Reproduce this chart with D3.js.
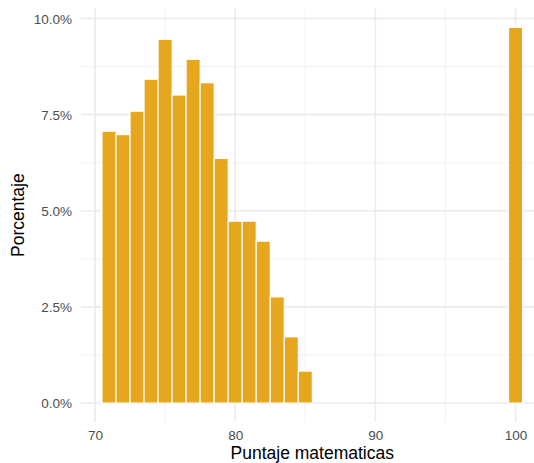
<!DOCTYPE html>
<html>
<head>
<meta charset="utf-8">
<script src="https://cdn.jsdelivr.net/npm/d3@7"></script>
<style>
  html, body { margin: 0; padding: 0; background: #ffffff; }
  svg { display: block; }
  text { font-family: "Liberation Sans", Arial, Helvetica, sans-serif; }
</style>
</head>
<body>
<div id="chart"></div>
<script>
// Data
const scores = [71, 72, 73, 74, 75, 76, 77, 78, 79, 80, 81, 82, 83, 84, 85, 100];
const percents = [7.07, 6.98, 7.59, 8.42, 9.46, 8.01, 8.94, 8.33, 6.36, 4.73, 4.73, 4.21, 2.76, 1.72, 0.83, 9.77];
const xTicks = [70, 80, 90, 100];
const xMinorTicks = [75, 85, 95];
const yTicks = [0, 2.5, 5, 7.5, 10];
const yMinorTicks = [1.25, 3.75, 6.25, 8.75];
const xTitle = "Puntaje matematicas";
const yTitle = "Porcentaje";

const W = 534, H = 463;
const panel = { left: 81, right: 543.6, top: 8.6, bottom: 421.8 };

const svg = d3.select("#chart").append("svg")
  .attr("width", W).attr("height", H);

const dataMin = d3.min(scores) - 0.5, dataMax = d3.max(scores) + 0.5;
const xPad = (dataMax - dataMin) * 0.05;
const x = d3.scaleLinear()
  .domain([dataMin - xPad, dataMax + xPad])
  .range([panel.left, panel.right]);

const yMax = d3.max(percents);
const yPad = yMax * 0.05;
const y = d3.scaleLinear()
  .domain([-yPad, yMax + yPad])
  .range([panel.bottom, panel.top]);

const grid = svg.append("g");
// minor grid
grid.selectAll("line.ym").data(yMinorTicks).join("line")
  .attr("x1", panel.left).attr("x2", panel.right)
  .attr("y1", d => y(d)).attr("y2", d => y(d))
  .attr("stroke", "#EFEFEF").attr("stroke-width", 0.9);
grid.selectAll("line.xm").data(xMinorTicks).join("line")
  .attr("x1", d => x(d)).attr("x2", d => x(d))
  .attr("y1", panel.top).attr("y2", panel.bottom)
  .attr("stroke", "#EFEFEF").attr("stroke-width", 0.9);
// major grid
grid.selectAll("line.yM").data(yTicks).join("line")
  .attr("x1", panel.left).attr("x2", panel.right)
  .attr("y1", d => y(d)).attr("y2", d => y(d))
  .attr("stroke", "#EBEBEB").attr("stroke-width", 1.6);
grid.selectAll("line.xM").data(xTicks).join("line")
  .attr("x1", d => x(d)).attr("x2", d => x(d))
  .attr("y1", panel.top).attr("y2", panel.bottom)
  .attr("stroke", "#EBEBEB").attr("stroke-width", 1.6);

// bars
const bars = scores.map((s, i) => ({ s, p: percents[i] }));
svg.append("g").selectAll("rect").data(bars).join("rect")
  .attr("x", d => x(d.s - 0.5))
  .attr("width", d => x(d.s + 0.5) - x(d.s - 0.5))
  .attr("y", d => y(d.p))
  .attr("height", d => y(0) - y(d.p))
  .attr("fill", "#E6A71E")
  .attr("stroke", "#ffffff")
  .attr("stroke-width", 1.1);

// x axis labels
const xAxis = d3.axisBottom(x).tickValues(xTicks).tickSize(0).tickPadding(0)
  .tickFormat(d3.format("d"));
const gx = svg.append("g").attr("transform", `translate(0, ${panel.bottom + 18})`).call(xAxis);
gx.select(".domain").remove();
gx.selectAll("text").attr("fill", "#4D4D4D").attr("font-size", 13.5)
  .attr("font-family", "Liberation Sans, Arial, sans-serif").attr("y", 0).attr("dy", "0");

// y axis labels
const yAxis = d3.axisLeft(y).tickValues(yTicks).tickSize(0).tickPadding(0)
  .tickFormat(d => d3.format(".1f")(d) + "%");
const gy = svg.append("g").attr("transform", `translate(72, 0)`).call(yAxis);
gy.select(".domain").remove();
gy.selectAll("text").attr("fill", "#4D4D4D").attr("font-size", 13.5)
  .attr("font-family", "Liberation Sans, Arial, sans-serif").attr("x", 0).attr("dy", "0.35em");

// titles
svg.append("text")
  .attr("x", (panel.left + panel.right) / 2)
  .attr("y", 459)
  .attr("text-anchor", "middle")
  .attr("font-size", 17.5)
  .attr("fill", "#000000")
  .text(xTitle);

svg.append("text")
  .attr("transform", `translate(24, ${(panel.top + panel.bottom) / 2}) rotate(-90)`)
  .attr("text-anchor", "middle")
  .attr("font-size", 17.5)
  .attr("fill", "#000000")
  .text(yTitle);
</script>
</body>
</html>
